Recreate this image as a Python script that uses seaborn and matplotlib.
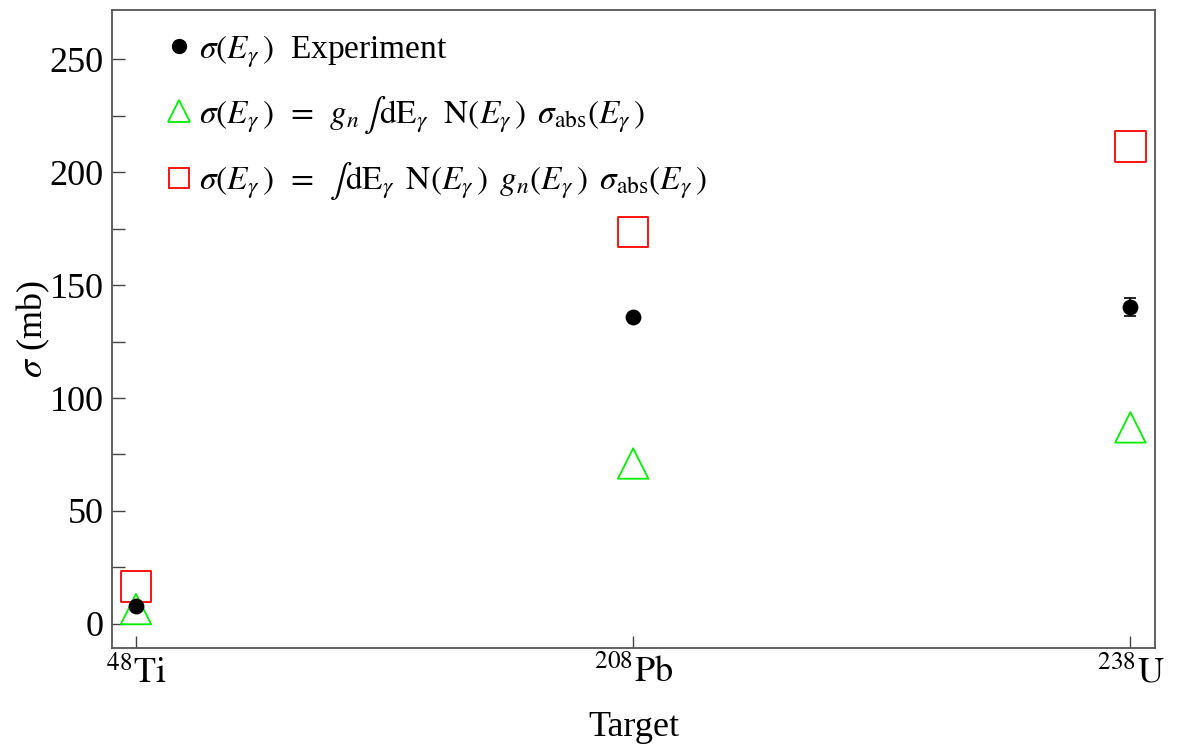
import matplotlib
matplotlib.use("Agg")
import matplotlib.pyplot as plt
import seaborn as sns
import pandas as pd
from matplotlib.lines import Line2D

sns.set_theme(style="white")
plt.rcParams['font.family'] = ['Liberation Serif', 'DejaVu Serif']
plt.rcParams['mathtext.fontset'] = 'stix'
plt.rcParams['text.color'] = 'black'
plt.rcParams['axes.labelcolor'] = 'black'
plt.rcParams['xtick.color'] = 'black'
plt.rcParams['ytick.color'] = 'black'

targets = [r'$^{48}\mathrm{Ti}$', r'$^{208}\mathrm{Pb}$', r'$^{238}\mathrm{U}$']
target_pos = [0, 1, 2]
sigma_exp = [8.0, 135.8, 140.5]
sigma_exp_err = [1.0, 1.5, 4.0]
sigma_gn_const = [6.5, 71.0, 87.0]
sigma_gn_energy = [16.5, 173.5, 211.5]
yticks = [0, 50, 100, 150, 200, 250]

df = pd.DataFrame({
    'pos': target_pos * 3,
    'sigma': sigma_exp + sigma_gn_const + sigma_gn_energy,
    'series': ['exp'] * 3 + ['const'] * 3 + ['energy'] * 3,
})

fig, ax = plt.subplots(figsize=(11.8, 7.54), dpi=100)
fig.subplots_adjust(left=0.095, right=0.979, top=0.987, bottom=0.141)

sns.scatterplot(data=df[df.series == 'energy'], x='pos', y='sigma', ax=ax,
                marker='s', s=480, facecolor='none', edgecolor='red', linewidth=1.3, zorder=2)
sns.scatterplot(data=df[df.series == 'const'], x='pos', y='sigma', ax=ax,
                marker='^', s=480, facecolor='none', edgecolor='#00ee00', linewidth=1.3, zorder=3)
ax.errorbar(target_pos, sigma_exp, yerr=sigma_exp_err, fmt='none', ecolor='black',
            elinewidth=1.2, capsize=4, capthick=1.2, zorder=4)
sns.scatterplot(data=df[df.series == 'exp'], x='pos', y='sigma', ax=ax,
                marker='o', s=130, color='black', edgecolor='black', linewidth=0, zorder=5)

ax.set_xlim(-0.048, 2.05)
ax.set_ylim(-10.6, 272)
ax.set_xticks(target_pos)
ax.set_xticklabels(targets, fontsize=26)
ax.set_yticks(yticks)
ax.set_yticklabels([str(v) for v in yticks], fontsize=26)
ax.set_yticks([25, 75, 125, 175, 225], minor=True)
ax.tick_params(axis='both', which='both', direction='in', length=9, width=1, color='#444444',
               bottom=True, left=True, top=False, right=False, pad=6)
ax.set_xlabel('Target', fontsize=26, labelpad=14)
ax.set_ylabel(r'$\sigma$ (mb)', fontsize=26, labelpad=-2)
for sp in ax.spines.values():
    sp.set_color('#555555')
    sp.set_linewidth(1.3)
ax.grid(False)

handles = [
    Line2D([], [], marker='o', linestyle='none', color='black', markersize=10),
    Line2D([], [], marker='^', linestyle='none', markerfacecolor='none', markeredgecolor='#00ee00', markersize=16, markeredgewidth=1.3),
    Line2D([], [], marker='s', linestyle='none', markerfacecolor='none', markeredgecolor='red', markersize=14, markeredgewidth=1.3),
]
labels = [
    r'$\sigma(E_\gamma\,)$  Experiment',
    r'$\sigma(E_\gamma\,)\ \,=\ \,g_n\, \int \mathrm{dE}_\gamma\ \ \mathrm{N}(E_\gamma\,)\ \,\sigma_{\mathrm{abs}}(E_\gamma\,)$',
    r'$\sigma(E_\gamma\,)\ \,=\ \,\int \mathrm{dE}_\gamma\ \,\mathrm{N}(E_\gamma\,)\ \,g_n(E_\gamma\,)\ \,\sigma_{\mathrm{abs}}(E_\gamma\,)$',
]
ax.legend(handles, labels, loc='upper left', bbox_to_anchor=(0.035, 0.995), frameon=False,
          fontsize=24, handlelength=0.6, handletextpad=0.3, labelspacing=0.7, borderaxespad=0.2)

fig.savefig('out.png', dpi=100)
